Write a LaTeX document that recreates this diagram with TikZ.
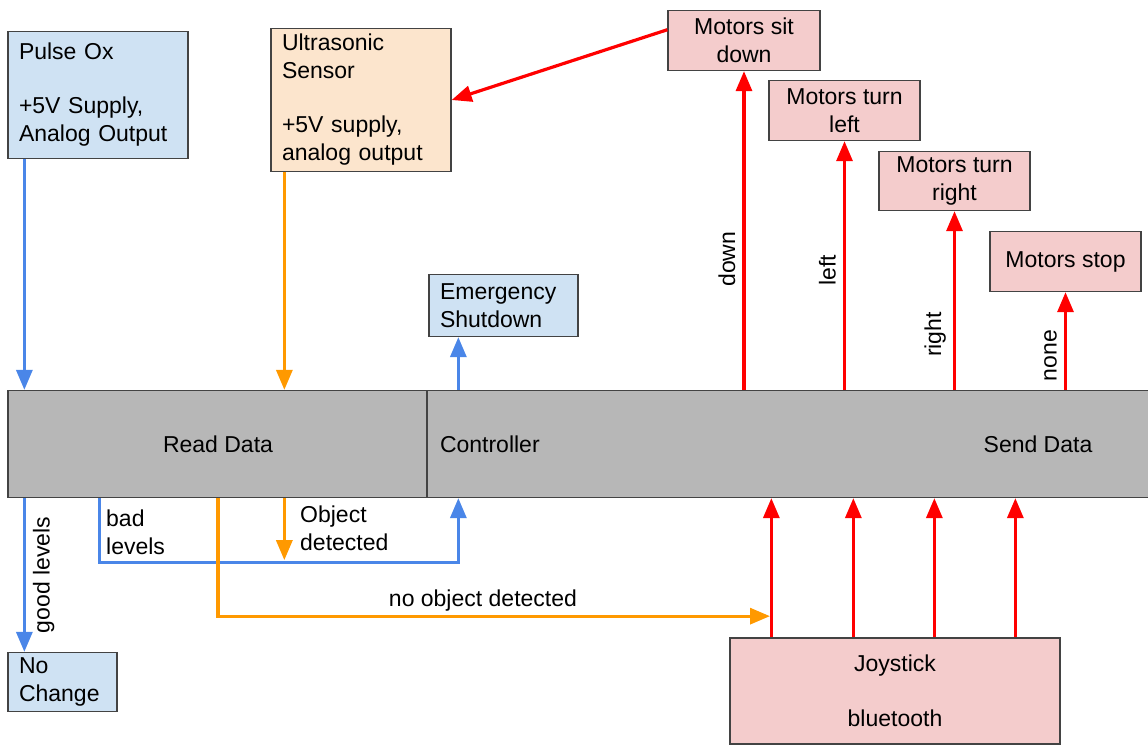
\documentclass[tikz,border=0pt]{standalone}
\usepackage{fontspec}
\setmainfont{Liberation Sans}
\usetikzlibrary{arrows.meta}
\definecolor{edgegray}{HTML}{434343}
\definecolor{fillblue}{HTML}{CFE2F3}
\definecolor{fillorange}{HTML}{FCE5CD}
\definecolor{fillpink}{HTML}{F4CCCC}
\definecolor{fillgray}{HTML}{B7B7B7}
\definecolor{lineblue}{HTML}{4A86E8}
\definecolor{lineorange}{HTML}{FF9900}
\definecolor{linered}{HTML}{FF0000}
\tikzset{
  box/.style={draw=edgegray,line width=1.3pt,inner ysep=0pt},
  lbox/.style={box,align=left,inner xsep=11pt},
  cbox/.style={box,align=center,inner xsep=0pt},
  flow/.style={line width=3.2pt,-{Triangle[width=16pt,length=20pt]}},
  bluef/.style={flow,draw=lineblue},
  orangef/.style={flow,draw=lineorange},
  redf/.style={flow,draw=linered},
  tag/.style={inner sep=7pt}
}
\begin{document}
\begin{tikzpicture}[x=1pt,y=-1pt,font=\fontsize{23}{28}\selectfont]
  \useasboundingbox (0,0) rectangle (1148,744);
  \node[lbox,fill=fillblue,text width=158pt,minimum height=127pt] (pulse) at (98,95) {Pulse Ox\\[26pt]+5V Supply,\\Analog Output};
  \node[lbox,fill=fillorange,text width=158pt,minimum height=143pt] (ultra) at (361,100) {Ultrasonic\\Sensor\\[26pt]+5V supply,\\analog output};
  \node[lbox,fill=fillblue,text width=127pt,minimum height=62pt] (emerg) at (503.5,305.5) {Emergency\\Shutdown};
  \node[lbox,fill=fillblue,text width=87pt,minimum height=59pt] (nochange) at (62.5,682) {No\\Change};
  \node[cbox,fill=fillpink,minimum width=152pt,minimum height=60pt] (sitdown) at (744,40.5) {Motors sit\\down};
  \node[cbox,fill=fillpink,minimum width=151pt,minimum height=60pt] (turnleft) at (844.5,110.5) {Motors turn\\left};
  \node[cbox,fill=fillpink,minimum width=151pt,minimum height=59pt] (turnright) at (954.5,181) {Motors turn\\right};
  \node[cbox,fill=fillpink,minimum width=151pt,minimum height=60pt] (stop) at (1065.5,261.5) {Motors stop};
  \node[cbox,fill=fillgray,minimum width=420pt,minimum height=107pt] (read) at (218,444) {Read Data};
  \node[lbox,fill=fillgray,text width=700pt,minimum height=107pt,inner xsep=13pt] (ctrl) at (790,444) {Controller};
  \node (send) at (1038,444.5) {Send Data};
  \node[cbox,fill=fillpink,minimum width=330pt,minimum height=106pt] (joy) at (895,691) {Joystick\\[27pt]bluetooth};

  \draw[bluef] ([xshift=17pt]pulse.south west) -- ([xshift=17pt]pulse.south west |- read.north);
  \draw[orangef] ([xshift=14pt]ultra.south west) -- ([xshift=14pt]ultra.south west |- read.north);
  \draw[redf] (sitdown.172) -- (ultra.east);
  \draw[bluef] ([xshift=30pt]emerg.south west |- ctrl.north) -- ([xshift=30pt]emerg.south west);
  \draw[redf] (sitdown.south |- ctrl.north) -- node[tag,pos=0.41,rotate=90,above] {down} (sitdown.south);
  \draw[redf] (turnleft.south |- ctrl.north) -- node[tag,pos=0.48,rotate=90,above] {left} (turnleft.south);
  \draw[redf] (turnright.south |- ctrl.north) -- node[tag,pos=0.31,rotate=90,above] {right} (turnright.south);
  \draw[redf] (stop.south |- ctrl.north) -- node[tag,pos=0.35,rotate=90,above] {none} (stop.south);

  \draw[bluef] ([xshift=17pt]read.south west) -- node[tag,rotate=90,below] {good levels} ([xshift=17pt]read.south west |- nochange.north);
  \draw[bluef] ([xshift=92pt]read.south west) -- ++(0,64) -| ([xshift=32pt]ctrl.south west);
  \node[anchor=north west,align=left,inner sep=0pt] (badlbl) at (106,510) {bad\\levels};
  \draw[orangef] ([xshift=14pt]ultra.south west |- read.south) -- ++(0,62);
  \node[anchor=north west,align=left,inner sep=0pt] (objlbl) at (300,506) {Object\\detected};
  \draw[orangef] (read.south) -- ++(0,118) -- node[above,pos=0.48,inner sep=3pt] {no object detected} ++(552,0);
  \foreach \dx in {42,124,205,286}
    \draw[redf] ([xshift=\dx pt]joy.north west) -- ([xshift=\dx pt]joy.north west |- ctrl.south);
\end{tikzpicture}
\end{document}
